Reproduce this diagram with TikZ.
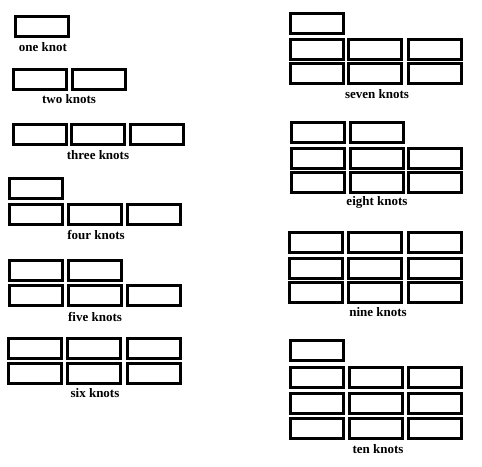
\documentclass[tikz,border=0pt]{standalone}
\usepackage{fontspec}
\setmainfont{Liberation Serif}

\begin{document}
\begin{tikzpicture}[x=1pt,y=-1pt,
    knotbox/.style={draw,line width=3pt,minimum width=53pt,
      minimum height=20pt,inner sep=0pt},
    knotname/.style={font=\fontsize{13}{15}\selectfont\bfseries,inner sep=0pt}]
  \useasboundingbox (0,0) rectangle (482,466);

  % left column
  \node[knotbox] (one1) at (42,26.5) {};
  \node[knotname] (one) at (43,47) {one knot};

  \foreach \x [count=\c] in {40,99}
    \node[knotbox] (two\c) at (\x,79) {};
  \node[knotname] (two) at (69,99) {two knots};

  \foreach \x [count=\c] in {39.5,98,157}
    \node[knotbox] (three\c) at (\x,134) {};
  \node[knotname] (three) at (98,155) {three knots};

  \node[knotbox] (four0) at (36,188) {};
  \foreach \x [count=\c] in {36,95,154}
    \node[knotbox] (four\c) at (\x,214) {};
  \node[knotname] (four) at (96,235) {four knots};

  \foreach \x [count=\c] in {36,95}
    \node[knotbox] (fivetop\c) at (\x,270) {};
  \foreach \x [count=\c] in {36,95,154}
    \node[knotbox] (five\c) at (\x,295.5) {};
  \node[knotname] (five) at (95,317) {five knots};

  \foreach \y [count=\r] in {348,373.5}
    \foreach \x [count=\c] in {35,94,153.5}
      \node[knotbox] (six-\r-\c) at (\x,\y) {};
  \node[knotname] (six) at (95,393) {six knots};

  % right column
  \node[knotbox] (seven0) at (317,23) {};
  \foreach \y [count=\r] in {49,73.5}
    \foreach \x [count=\c] in {317,375,434.5}
      \node[knotbox] (seven-\r-\c) at (\x,\y) {};
  \node[knotname] (seven) at (377,94) {seven knots};

  \foreach \x [count=\c] in {318,377}
    \node[knotbox] (eighttop\c) at (\x,132) {};
  \foreach \y [count=\r] in {158,182.5}
    \foreach \x [count=\c] in {317.5,376.5,435}
      \node[knotbox] (eight-\r-\c) at (\x,\y) {};
  \node[knotname] (eight) at (377,202) {eight knots};

  \foreach \y [count=\r] in {242,268,292.5}
    \foreach \x [count=\c] in {316,375,434.5}
      \node[knotbox] (nine-\r-\c) at (\x,\y) {};
  \node[knotname] (nine) at (378,312) {nine knots};

  \node[knotbox] (ten0) at (317,350.5) {};
  \foreach \y [count=\r] in {377,403,428.5}
    \foreach \x [count=\c] in {317,376,435}
      \node[knotbox] (ten-\r-\c) at (\x,\y) {};
  \node[knotname] (ten) at (378,449) {ten knots};
\end{tikzpicture}
\end{document}
